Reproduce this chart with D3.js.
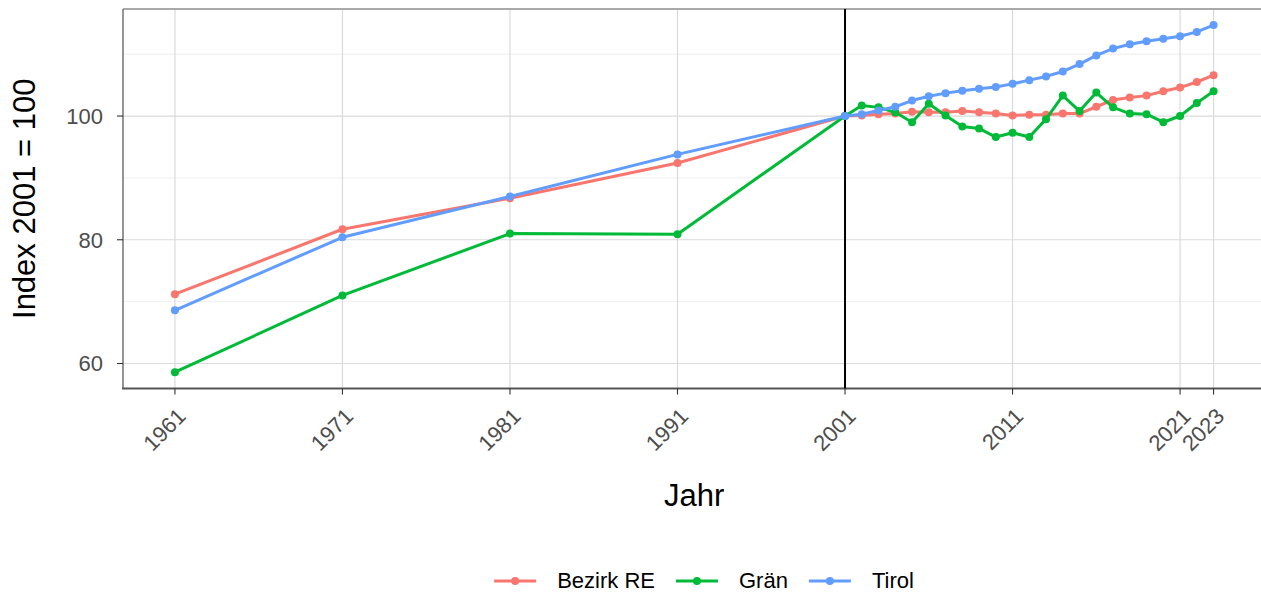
<!DOCTYPE html>
<html>
<head>
<meta charset="utf-8">
<script src="https://cdn.jsdelivr.net/npm/d3@7"></script>
<style>
  body { margin: 0; background: #fff; }
  svg { display: block; font-family: "Liberation Sans", Arial, sans-serif; }
</style>
</head>
<body>
<div id="chart"></div>
<script>
// Values (Index 2001 = 100)
const years = [1961, 1971, 1981, 1991, 2001, 2002, 2003, 2004, 2005, 2006, 2007, 2008,
  2009, 2010, 2011, 2012, 2013, 2014, 2015, 2016, 2017, 2018, 2019, 2020, 2021, 2022, 2023];
const bezirkRE = [71.2, 81.7, 86.7, 92.4, 100, 100.1, 100.3, 100.4, 100.7, 100.6, 100.6, 100.8,
  100.6, 100.4, 100.1, 100.2, 100.2, 100.4, 100.4, 101.5, 102.6, 103.0, 103.3, 104.0, 104.6, 105.5, 106.6];
const graen = [58.6, 71.0, 81.0, 80.9, 100, 101.7, 101.4, 100.6, 99.0, 102.0, 100.1, 98.3,
  98.0, 96.6, 97.3, 96.6, 99.5, 103.3, 100.8, 103.8, 101.4, 100.4, 100.3, 99.0, 100.0, 102.1, 104.0];
const tirol = [68.6, 80.4, 87.0, 93.8, 100, 100.3, 100.9, 101.5, 102.5, 103.2, 103.7, 104.1,
  104.4, 104.7, 105.2, 105.8, 106.4, 107.2, 108.4, 109.8, 110.9, 111.6, 112.1, 112.5, 112.9, 113.6, 114.7];

const seriesNames = ['Bezirk RE', 'Grän', 'Tirol'];
const seriesColors = ['#F8766D', '#00BA38', '#619CFF'];
const xBreaks = [1961, 1971, 1981, 1991, 2001, 2011, 2021, 2023];
const yBreaks = [60, 80, 100];
const yMinor = [70, 90, 110];

const width = 1261, height = 593;
const panel = { left: 123, top: 9, right: 1265.5, bottom: 388.5 };

const svg = d3.select('#chart').append('svg')
  .attr('width', width).attr('height', height);

const x = d3.scaleLinear().domain([1961 - 3.1, 2023 + 3.1]).range([panel.left, panel.right]);
const y = d3.scaleLinear().domain([55.96, 117.3]).range([panel.bottom, panel.top]);

// Grid
const grid = svg.append('g');
grid.selectAll('.minor').data(yMinor).enter().append('line')
  .attr('x1', panel.left).attr('x2', panel.right)
  .attr('y1', d => y(d)).attr('y2', d => y(d))
  .attr('stroke', '#ececec').attr('stroke-width', 0.9);
grid.selectAll('.majy').data(yBreaks).enter().append('line')
  .attr('x1', panel.left).attr('x2', panel.right)
  .attr('y1', d => y(d)).attr('y2', d => y(d))
  .attr('stroke', '#dadada').attr('stroke-width', 1.2);
grid.selectAll('.majx').data(xBreaks).enter().append('line')
  .attr('x1', d => x(d)).attr('x2', d => x(d))
  .attr('y1', panel.top).attr('y2', panel.bottom)
  .attr('stroke', '#dadada').attr('stroke-width', 1.2);

// Panel border (top + left) and axis lines
svg.append('line').attr('x1', panel.left).attr('x2', panel.right)
  .attr('y1', panel.top).attr('y2', panel.top)
  .attr('stroke', '#8c8c8c').attr('stroke-width', 1.4);
svg.append('line').attr('x1', panel.left).attr('x2', panel.left)
  .attr('y1', panel.top).attr('y2', panel.bottom)
  .attr('stroke', '#7a7a7a').attr('stroke-width', 1.6);
svg.append('line').attr('x1', panel.left - 1).attr('x2', panel.right)
  .attr('y1', panel.bottom).attr('y2', panel.bottom)
  .attr('stroke', '#555').attr('stroke-width', 2);

// Vertical reference line at 2001
svg.append('line')
  .attr('x1', x(2001)).attr('x2', x(2001)).attr('y1', panel.top).attr('y2', panel.bottom)
  .attr('stroke', '#000').attr('stroke-width', 2);

// Series
const series = [bezirkRE, graen, tirol];
const line = d3.line().x((d, i) => x(years[i])).y(d => y(d));
series.forEach((vals, k) => {
  const g = svg.append('g');
  g.append('path').datum(vals)
    .attr('d', line)
    .attr('fill', 'none')
    .attr('stroke', seriesColors[k])
    .attr('stroke-width', 3)
    .attr('stroke-linejoin', 'round');
  g.selectAll('circle').data(vals).enter().append('circle')
    .attr('cx', (d, i) => x(years[i])).attr('cy', d => y(d))
    .attr('r', 4).attr('fill', seriesColors[k]);
});

// X axis ticks and labels
const xa = svg.append('g');
xa.selectAll('.tk').data(xBreaks).enter().append('line')
  .attr('x1', d => x(d)).attr('x2', d => x(d))
  .attr('y1', panel.bottom).attr('y2', panel.bottom + 6)
  .attr('stroke', '#333').attr('stroke-width', 1.1);
xa.selectAll('text').data(xBreaks).enter().append('text')
  .attr('transform', d => `translate(${x(d) + 1},${panel.bottom + 18}) rotate(-45)`)
  .attr('text-anchor', 'end')
  .attr('dy', '0.72em')
  .attr('font-size', '22px')
  .attr('fill', '#4d4d4d')
  .text(d => d);

// Y axis ticks and labels
const ya = svg.append('g');
ya.selectAll('.tk').data(yBreaks).enter().append('line')
  .attr('x1', panel.left - 6).attr('x2', panel.left)
  .attr('y1', d => y(d)).attr('y2', d => y(d))
  .attr('stroke', '#333').attr('stroke-width', 1.1);
ya.selectAll('text').data(yBreaks).enter().append('text')
  .attr('x', 103).attr('y', d => y(d))
  .attr('dy', '0.36em')
  .attr('text-anchor', 'end')
  .attr('font-size', '22px')
  .attr('fill', '#4d4d4d')
  .text(d => d);

// Axis titles
svg.append('text')
  .attr('x', (panel.left + panel.right) / 2).attr('y', 506)
  .attr('text-anchor', 'middle')
  .attr('font-size', '31px').attr('fill', '#000')
  .text('Jahr');
svg.append('text')
  .attr('transform', `translate(35,${(panel.top + panel.bottom) / 2}) rotate(-90)`)
  .attr('text-anchor', 'middle')
  .attr('font-size', '31px').attr('fill', '#000')
  .text('Index 2001 = 100');

// Legend
const legend = svg.append('g');
const keyW = 42, keyGap = 21, itemGap = 21, legY = 580;
const items = seriesNames.map((name, k) => {
  const t = legend.append('text')
    .attr('font-size', '22px').attr('fill', '#000')
    .attr('dy', '0.36em').attr('y', legY)
    .text(name);
  return { t, w: t.node().getComputedTextLength(), k };
});
const total = d3.sum(items, d => keyW + keyGap + d.w) + itemGap * (items.length - 1);
let cx = 704 - total / 2;
items.forEach(d => {
  legend.append('line')
    .attr('x1', cx).attr('x2', cx + keyW).attr('y1', legY + 1).attr('y2', legY + 1)
    .attr('stroke', seriesColors[d.k]).attr('stroke-width', 3);
  legend.append('circle')
    .attr('cx', cx + keyW / 2).attr('cy', legY + 1).attr('r', 4)
    .attr('fill', seriesColors[d.k]);
  d.t.attr('x', cx + keyW + keyGap);
  cx += keyW + keyGap + d.w + itemGap;
});
</script>
</body>
</html>
